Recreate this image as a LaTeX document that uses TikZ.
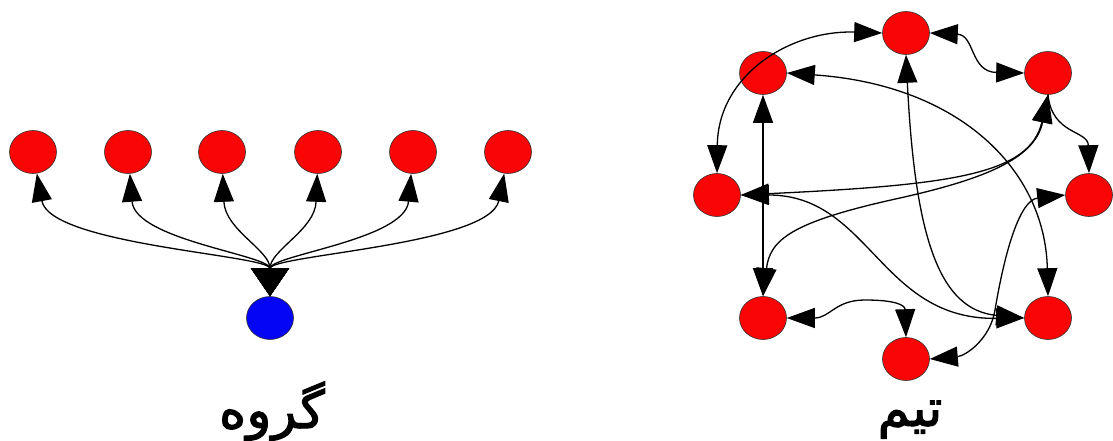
\documentclass[tikz,border=0pt]{standalone}
\usepackage{fontspec}
\usetikzlibrary{shapes.geometric,arrows.meta}
\TeXXeTstate=1
\newfontfamily\arabicfont[Script=Arabic,FakeBold=2]{DejaVu Sans}
\definecolor{nodered}{RGB}{250,5,5}
\definecolor{nodeblue}{RGB}{5,5,245}
\tikzset{
  rednode/.style={ellipse,draw=black!80,line width=0.6pt,fill=nodered,minimum width=47pt,minimum height=43pt,inner sep=0pt},
  bluenode/.style={ellipse,draw=black!80,line width=0.6pt,fill=nodeblue,minimum width=47pt,minimum height=43pt,inner sep=0pt},
  edge/.style={line width=1.3pt,black},
  tip/.tip={Triangle[length=28pt,width=20pt]},
  bigtip/.tip={Triangle[length=28pt,width=38pt]},
  label/.style={font=\arabicfont\fontsize{52}{60}\selectfont,inner sep=0pt,anchor=base}
}
\begin{document}
\begin{tikzpicture}[x=1pt,y=-1pt]
\useasboundingbox (0,0) rectangle (1113,441);
\fill[white] (0,0) rectangle (1113,441);
% left group
\node[rednode] (r1) at (33,152) {};
\node[rednode] (r2) at (128,152) {};
\node[rednode] (r3) at (222,152) {};
\node[rednode] (r4) at (318,152) {};
\node[rednode] (r5) at (413,152) {};
\node[rednode] (r6) at (508,152) {};
\node[bluenode] (b0) at (270,318) {};
\draw[edge,bigtip-tip] (b0.north) .. controls (270,255) and (50,245) .. (r1.-80);
\draw[edge,bigtip-tip] (b0.north) .. controls (270,255) and (135,240) .. (r2.-85);
\draw[edge,bigtip-tip] (b0.north) .. controls (270,250) and (225,230) .. (r3.-88);
\draw[edge,bigtip-tip] (b0.north) .. controls (270,250) and (315,230) .. (r4.-92);
\draw[edge,bigtip-tip] (b0.north) .. controls (270,255) and (405,240) .. (r5.-95);
\draw[edge,bigtip-tip] (b0.north) .. controls (270,255) and (490,245) .. (r6.-100);
\node[label] (lg) at (272,428) {\beginR گروه\endR};
% right team
\node[rednode] (T) at (906,33) {};
\node[rednode] (TL) at (763,73) {};
\node[rednode] (TR) at (1048,73) {};
\node[rednode] (L) at (717,195) {};
\node[rednode] (R) at (1089,195) {};
\node[rednode] (BL) at (763,318) {};
\node[rednode] (BR) at (1048,318) {};
\node[rednode] (B) at (906,359) {};
\draw[edge,tip-tip] (L.north) .. controls (718,75) and (790,30) .. (T.west);
\draw[edge,tip-tip] (T.east) .. controls (975,35) and (970,72) .. (TR.west);
\draw[edge,tip-tip] (T.south) .. controls (915,240) and (940,310) .. (BR.west);
\draw[edge,tip-tip] (TL.east) .. controls (960,85) and (1045,170) .. (BR.north);
\draw[edge,tip-tip] (TL.south) -- (BL.north);
\draw[edge,tip-tip] (TR.south) .. controls (1030,175) and (950,185) .. (L.east);
\draw[edge,tip-tip] (TR.south) .. controls (1035,160) and (980,180) .. (900,198) .. controls (790,222) and (770,240) .. (BL.north);
\draw[edge,-tip] (TR.south) .. controls (1052,135) and (1088,130) .. (R.north);
\draw[edge,tip-tip] (L.east) .. controls (870,195) and (880,320) .. (BR.west);
\draw[edge,tip-tip] (BL.east) .. controls (830,318) and (835,300) .. (865,300) .. controls (895,300) and (905,305) .. (B.north);
\draw[edge,tip-tip] (R.west) .. controls (1020,200) and (1005,250) .. (995,310) .. controls (990,340) and (965,356) .. (B.east);
\node[label] (lt) at (910,426) {\beginR تیم\endR};
\end{tikzpicture}
\end{document}
